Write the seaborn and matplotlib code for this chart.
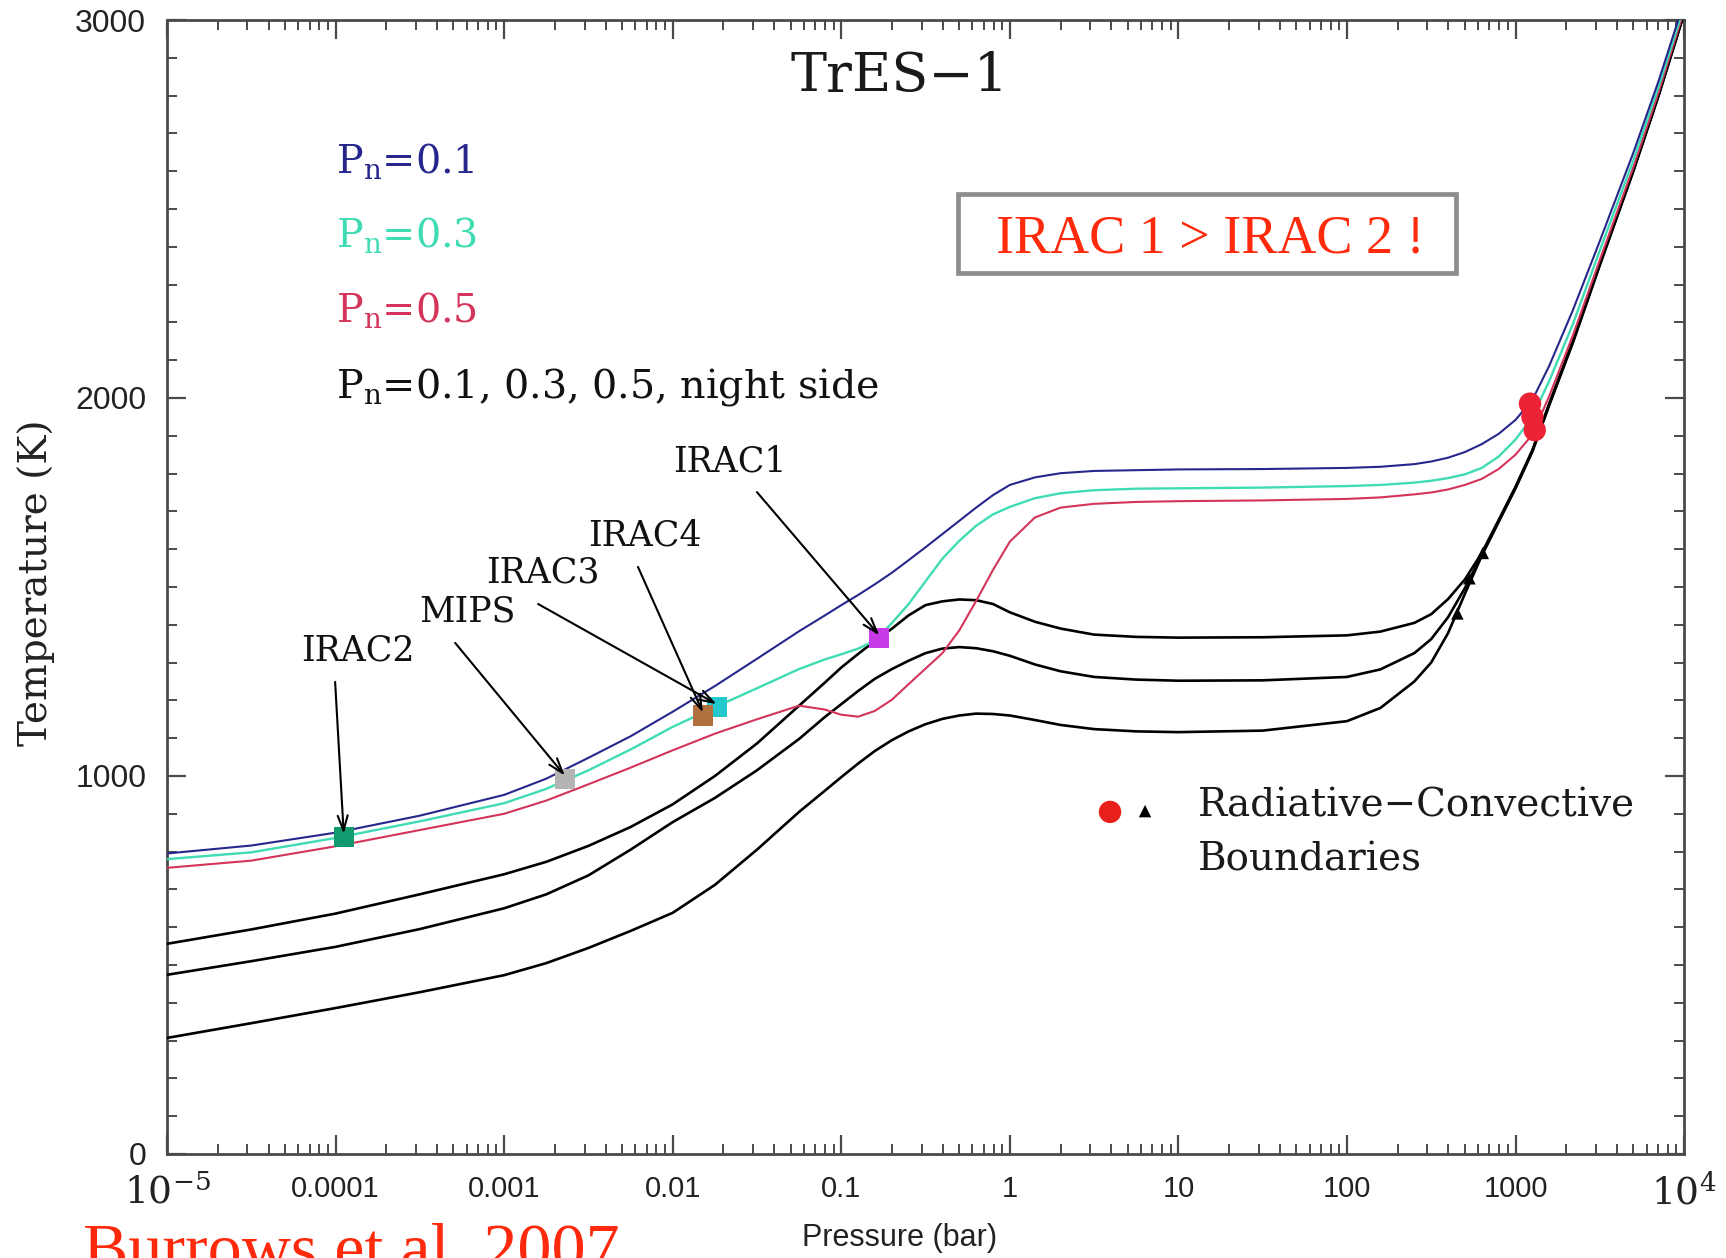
import matplotlib
matplotlib.use("Agg")
import matplotlib.pyplot as plt
import seaborn as sns
from matplotlib.ticker import FixedLocator, LogLocator, MultipleLocator, NullFormatter
from matplotlib.patches import Rectangle

# ---------------- data ----------------
pressure = [1e-5, 3.16e-5, 1e-4, 3.16e-4, 1e-3, 1.78e-3, 3.16e-3, 5.62e-3,
            0.01, 0.0178, 0.0316, 0.0562, 0.0794, 0.1, 0.126, 0.158, 0.2, 0.251,
            0.316, 0.398, 0.501, 0.631, 0.794, 1, 1.41, 2, 3.16, 5.62, 10, 31.6,
            100, 158, 251, 316, 398, 501, 631, 794, 1000, 1259, 1585, 2188, 3162,
            5012, 7079, 10000]

t_pn01 = [795, 816, 850, 895, 950, 993, 1048, 1105, 1170, 1238, 1310, 1383,
          1424, 1452, 1479, 1507, 1538, 1571, 1605, 1640, 1675, 1710, 1743, 1770,
          1790, 1801, 1807, 1809, 1811, 1812, 1815, 1818, 1825, 1832, 1842, 1857,
          1878, 1905, 1942, 1995, 2085, 2232, 2415, 2650, 2840, 3048]
t_pn03 = [780, 798, 836, 880, 928, 966, 1015, 1070, 1130, 1182, 1232, 1283,
          1308, 1322, 1337, 1358, 1405, 1455, 1515, 1575, 1622, 1662, 1692, 1712,
          1735, 1748, 1756, 1760, 1761, 1763, 1767, 1770, 1776, 1781, 1788, 1798,
          1815, 1845, 1890, 1950, 2045, 2195, 2390, 2630, 2825, 3035]
t_pn05 = [757, 776, 814, 857, 900, 935, 978, 1022, 1068, 1112, 1150, 1186,
          1176, 1162, 1157, 1172, 1202, 1243, 1284, 1325, 1385, 1463, 1545, 1620,
          1684, 1710, 1720, 1725, 1727, 1729, 1733, 1737, 1745, 1750, 1758, 1770,
          1786, 1812, 1850, 1903, 2005, 2165, 2365, 2612, 2810, 3025]
t_night1 = [556, 594, 636, 687, 740, 773, 815, 865, 925, 1000, 1086, 1186,
            1246, 1287, 1323, 1357, 1390, 1425, 1452, 1462, 1467, 1465, 1455, 1433,
            1408, 1390, 1374, 1368, 1366, 1367, 1372, 1382, 1405, 1428, 1468, 1520,
            1590, 1677, 1765, 1862, 1985, 2150, 2355, 2605, 2805, 3020]
t_night2 = [474, 510, 548, 595, 650, 687, 737, 805, 878, 942, 1015, 1098,
            1155, 1190, 1225, 1257, 1283, 1305, 1325, 1337, 1341, 1338, 1330, 1318,
            1295, 1277, 1262, 1255, 1252, 1253, 1262, 1282, 1325, 1362, 1420, 1497,
            1585, 1674, 1763, 1860, 1983, 2148, 2353, 2603, 2803, 3018]
t_night3 = [307, 346, 386, 428, 473, 505, 545, 590, 638, 712, 805, 905,
            960, 997, 1033, 1066, 1095, 1118, 1137, 1151, 1160, 1165, 1164, 1160,
            1148, 1135, 1124, 1118, 1116, 1120, 1145, 1180, 1250, 1300, 1378, 1482,
            1583, 1672, 1761, 1858, 1981, 2146, 2351, 2601, 2801, 3016]

band_names = ["IRAC2", "MIPS", "IRAC3", "IRAC4", "IRAC1"]
band_p = [1.117e-4, 2.29e-3, 0.0182, 0.0151, 0.168]
band_t = [839, 993, 1182, 1160, 1364]
band_colors = ["#119a70", "#b4b4b4", "#22c8cc", "#b07040", "#c63be6"]
label_p = [1.36e-4, 6.03e-4, 1.70e-3, 6.86e-3, 0.0219]
label_t = [1333, 1434, 1537, 1635, 1833]
tail_p = [9.93e-5, 5.12e-4, 1.59e-3, 6.22e-3, 0.0316]
tail_t = [1249, 1352, 1455, 1553, 1751]

rcb_p = [1219, 1260, 1300]
rcb_t = [1985, 1950, 1915]
tri_p = [452, 533, 640]
tri_t = [1430, 1523, 1590]

xtick_vals = [1e-5, 1e-4, 1e-3, 1e-2, 1e-1, 1, 10, 100, 1000, 1e4]
xtick_text = [r"$10^{-5}$", "0.0001", "0.001", "0.01", "0.1", "1", "10",
              "100", "1000", r"$10^{4}$"]
ytick_vals = [0, 1000, 2000, 3000]

# ---------------- style ----------------
sns.set_theme(style="ticks")
plt.rcParams["font.family"] = ["DejaVu Serif"]
plt.rcParams["mathtext.fontset"] = "dejavuserif"

SERIF = ["DejaVu Serif"]
SANS = ["Liberation Sans", "DejaVu Sans"]
AXC = "#4a4a4a"
C_BLUE, C_TEAL, C_RED = "#26268c", "#3fdcb4", "#d4345a"

fig = plt.figure(figsize=(17.26, 12.58), dpi=100)
ax = fig.add_axes([0.0968, 0.0827, 0.8789, 0.9014])
ax.set_xscale("log")

curves = [
    (t_night3, "black", 1.9), (t_night2, "black", 1.9), (t_night1, "black", 1.9),
    (t_pn05, C_RED, 1.5), (t_pn03, C_TEAL, 1.7), (t_pn01, C_BLUE, 1.5),
]
for temps, col, lw in curves:
    sns.lineplot(x=pressure, y=temps, color=col, linewidth=lw, ax=ax,
                 estimator=None, sort=False, legend=False, zorder=3)

# band photosphere markers
for p, t, c in zip(band_p, band_t, band_colors):
    sns.scatterplot(x=[p], y=[t], marker="s", s=210, color=c, edgecolor="none",
                    ax=ax, zorder=5, legend=False)

for name, lp, lt, tp, tt, p, t in zip(band_names, label_p, label_t, tail_p, tail_t,
                                      band_p, band_t):
    ax.text(lp, lt, name, fontsize=25, family=SERIF, ha="center", va="center",
            color="#111111", zorder=6)
    ax.annotate("", xy=(p, t + 8), xytext=(tp, tt),
                arrowprops=dict(arrowstyle="->,head_length=0.9,head_width=0.3",
                                color="black", lw=1.5, shrinkA=0, shrinkB=0),
                zorder=7)

# radiative-convective boundaries
sns.scatterplot(x=rcb_p, y=rcb_t, marker="o", s=260, color="#ec2236",
                edgecolor="none", ax=ax, zorder=6, legend=False)
sns.scatterplot(x=tri_p, y=tri_t, marker="^", s=80, color="black",
                edgecolor="none", ax=ax, zorder=6, legend=False)

# key for boundaries
sns.scatterplot(x=[3.93], y=[905], marker="o", s=260, color="#e8201c",
                edgecolor="none", ax=ax, zorder=6, legend=False)
sns.scatterplot(x=[6.34], y=[907], marker="^", s=80, color="black",
                edgecolor="none", ax=ax, zorder=6, legend=False)
ax.text(13.1, 894, "Radiative\u2212Convective", fontsize=28, family=SERIF,
        va="baseline", ha="left", color="#1a1a1a")
ax.text(13.1, 749, "Boundaries", fontsize=28, family=SERIF,
        va="baseline", ha="left", color="#1a1a1a")

# curve key
key_items = [(r"P$_{\rm n}$=0.1", C_BLUE, 0.8651),
             (r"P$_{\rm n}$=0.3", C_TEAL, 0.7998),
             (r"P$_{\rm n}$=0.5", C_RED, 0.7337),
             (r"P$_{\rm n}$=0.1, 0.3, 0.5, night side", "#111111", 0.6667)]
for txt, col, yy in key_items:
    ax.text(0.1114, yy, txt, transform=ax.transAxes, fontsize=28.5, family=SERIF,
            color=col, va="baseline", ha="left")

ax.text(0.483, 0.950, "TrES\u22121", transform=ax.transAxes, fontsize=39,
        family=SERIF, ha="center", va="center", color="#1a1a1a")

# highlighted statement box
ax.add_patch(Rectangle((0.5214, 0.7769), 0.3283, 0.0697, transform=ax.transAxes,
                       facecolor="white", edgecolor="#8e8e8e", linewidth=3.4,
                       zorder=8))
ax.text(0.688, 0.7954, "IRAC 1 > IRAC 2 !", transform=ax.transAxes, fontsize=39,
        family=["Liberation Serif"], color="#ff2a0c", ha="center", va="baseline",
        zorder=9)

# ---------------- axes ----------------
ax.set_xlim(1e-5, 1e4)
ax.set_ylim(0, 3000)
ax.xaxis.set_major_locator(FixedLocator(xtick_vals))
ax.xaxis.set_minor_locator(LogLocator(base=10, subs=range(2, 10), numticks=20))
ax.xaxis.set_minor_formatter(NullFormatter())
ax.set_xticks(xtick_vals)
ax.set_xticklabels(xtick_text)
ax.yaxis.set_major_locator(FixedLocator(ytick_vals))
ax.yaxis.set_minor_locator(MultipleLocator(100))
ax.set_yticks(ytick_vals)
ax.set_yticklabels([str(v) for v in ytick_vals])

ax.tick_params(which="both", direction="in", top=True, right=True, colors=AXC)
ax.tick_params(which="major", length=14, width=1.6)
ax.tick_params(which="minor", length=7.5, width=1.4)
ax.tick_params(axis="x", which="major", pad=15, labelcolor="#222222")
ax.tick_params(axis="y", which="major", pad=15, labelcolor="#222222")
for lab in ax.get_yticklabels():
    lab.set_fontfamily(SANS)
    lab.set_fontsize(23)
xl = ax.get_xticklabels()
for i, lab in enumerate(xl):
    if i in (0, len(xl) - 1):
        lab.set_fontfamily(SERIF)
        lab.set_fontsize(27)
    else:
        lab.set_fontfamily(SANS)
        lab.set_fontsize(21)
for sp in ax.spines.values():
    sp.set_color(AXC)
    sp.set_linewidth(2.0)
ax.set_xlabel("")
ax.set_ylabel("")

fig.text(36 / 1726, 1 - 583 / 1258, "Temperature (K)", rotation=90, fontsize=28,
         family=SERIF, ha="center", va="center", color="#222222")
fig.text(900 / 1726, 1 - 1238 / 1258, "Pressure (bar)", fontsize=22,
         family=SANS, ha="center", va="center", color="#222222")
fig.text(83 / 1726, -0.0095, "Burrows et al. 2007", fontsize=49,
         family=["Liberation Serif"], color="#ff2a0c", ha="left", va="baseline")

fig.savefig("out.png", dpi=100, facecolor="white")
